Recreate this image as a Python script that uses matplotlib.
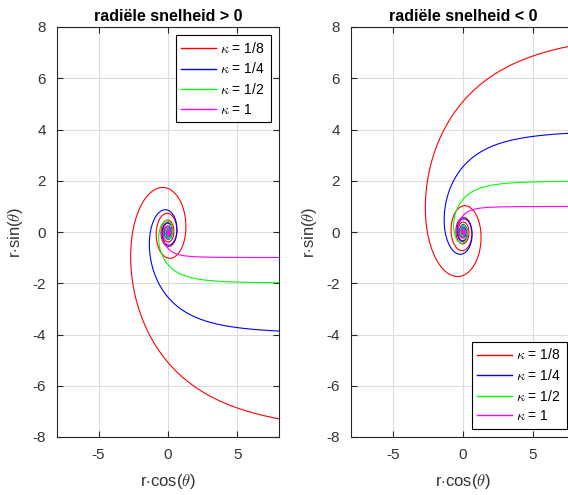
import numpy as np
import matplotlib
matplotlib.use("Agg")
import matplotlib.pyplot as plt

plt.rcParams['font.family'] = ['Liberation Sans', 'DejaVu Sans']
plt.rcParams['mathtext.fontset'] = 'cm'
plt.rcParams['axes.unicode_minus'] = False

# data
kappas = [1/8, 1/4, 1/2, 1]
kappa_labels = ['1/8', '1/4', '1/2', '1']
colors = ['#ff0000', '#0000ff', '#00ff00', '#ff00ff']
titles = ['radiële snelheid > 0', 'radiële snelheid < 0']
y_signs = [-1, 1]
ticks_x = [-5, 0, 5]
ticks_y = [-8, -6, -4, -2, 0, 2, 4, 6, 8]
theta = np.linspace(0.02, 25, 20000)

fig = plt.figure(figsize=(5.68, 4.95), dpi=100)
positions = [[57/568, 58/495, 222/568, 410/495],
             [351/568, 58/495, 224/568, 410/495]]
legend_locs = ['upper right', 'lower right']
gc = '#262626'

for ax_i in range(2):
    ax = fig.add_axes(positions[ax_i])
    for k, lab, c in zip(kappas, kappa_labels, colors):
        r = 1.0 / (k * theta)
        ax.plot(r * np.cos(theta), y_signs[ax_i] * r * np.sin(theta),
                color=c, lw=0.8, label=r'$\kappa$ = ' + lab)
    ax.set_xlim(-8, 8)
    ax.set_ylim(-8, 8)
    ax.set_xticks(ticks_x)
    ax.set_yticks(ticks_y)
    ax.grid(True, color='#dcdcdc', lw=0.8)
    ax.set_axisbelow(True)
    ax.tick_params(direction='in', top=True, right=True, colors=gc,
                   labelsize=11, length=4, width=0.8, pad=8)
    for tl in ax.get_xticklabels() + ax.get_yticklabels():
        tl.set_color('#333333')
    for s in ax.spines.values():
        s.set_color(gc)
        s.set_linewidth(0.8)
    ax.set_title(titles[ax_i], fontsize=11.5, fontweight='bold', pad=4)
    ax.set_xlabel(r'r$\cdot$cos($\theta$)', fontsize=12, color='#333333', labelpad=7)
    ax.set_ylabel(r'r$\cdot$sin($\theta$)', fontsize=12, color='#333333', labelpad=5)
    leg = ax.legend(loc=legend_locs[ax_i], fontsize=10, frameon=True, fancybox=False,
                    edgecolor='black', framealpha=1, handlelength=2.5,
                    handletextpad=0.3, borderpad=0.4, labelspacing=0.4,
                    borderaxespad=0.6)
    leg.get_frame().set_linewidth(0.8)
    for line in leg.get_lines():
        line.set_linewidth(1.0)

fig.savefig('out.png', dpi=100)
